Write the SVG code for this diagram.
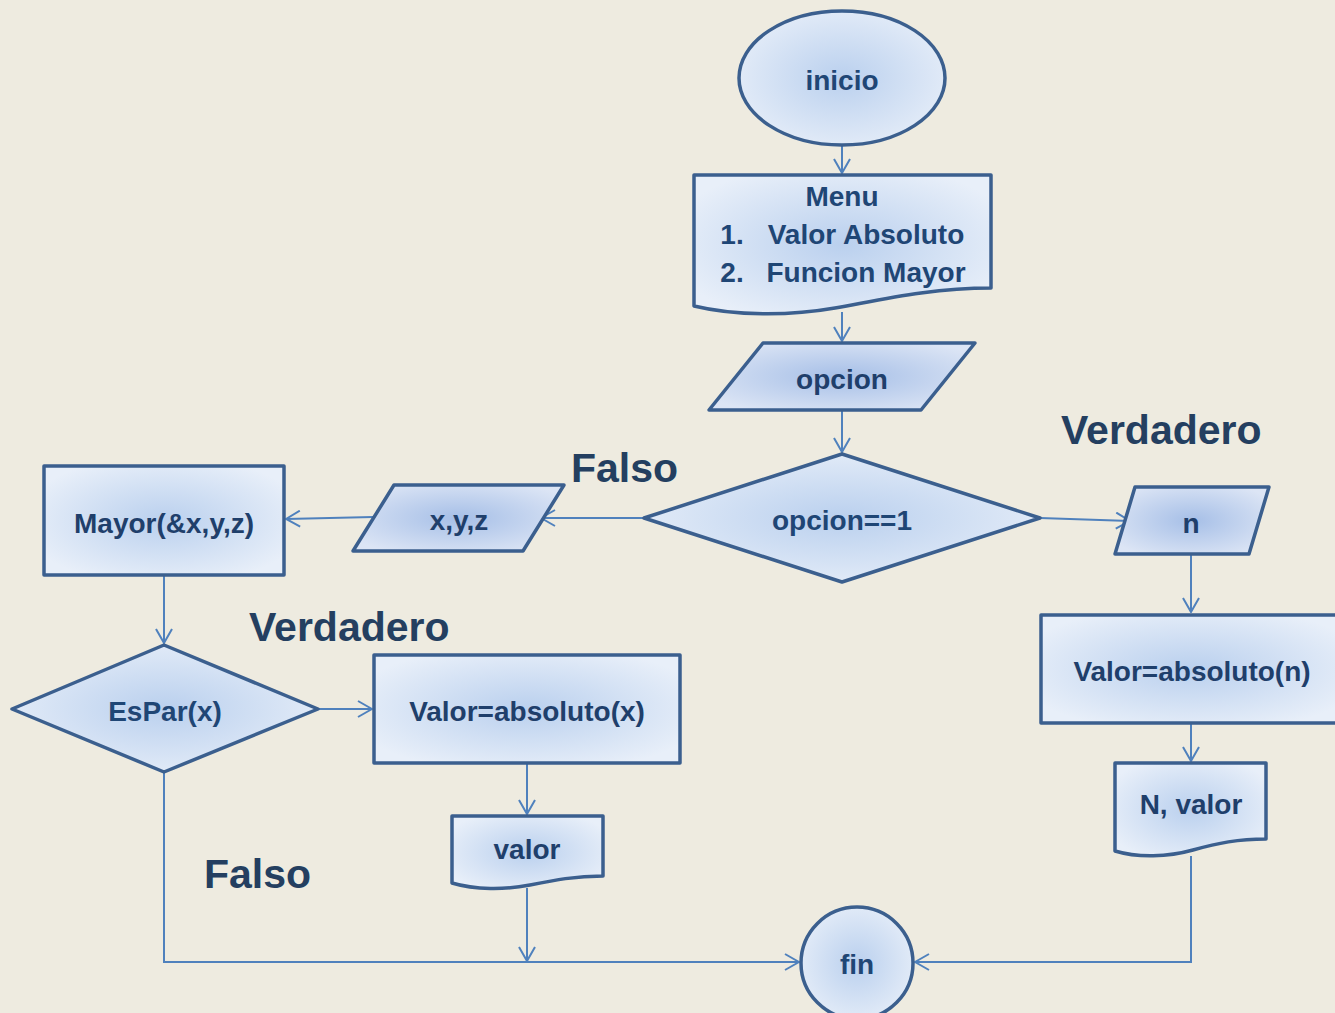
<svg xmlns="http://www.w3.org/2000/svg" width="1335" height="1013" viewBox="0 0 1335 1013">
<defs>
<radialGradient id="g" cx="50%" cy="50%" r="60%">
<stop offset="0" stop-color="#BAD0EE"/>
<stop offset="1" stop-color="#E8EFF9"/>
</radialGradient>
<radialGradient id="gp" cx="50%" cy="50%" r="60%">
<stop offset="0" stop-color="#A6BFE7"/>
<stop offset="1" stop-color="#DCE5F5"/>
</radialGradient>
<marker id="a" viewBox="0 0 16 18" refX="15" refY="9" markerWidth="16" markerHeight="18" markerUnits="userSpaceOnUse" orient="auto">
<path d="M1,1 L15,9 L1,17" fill="none" stroke="#4F81BD" stroke-width="2"/>
</marker>
<style>
.s{fill:url(#g);stroke:#3B5F8E;stroke-width:3.5;stroke-linejoin:round}
.p{fill:url(#gp);stroke:#3B5F8E;stroke-width:3.5;stroke-linejoin:round}
.t{font-family:"Liberation Sans",Arial,sans-serif;font-weight:bold;fill:#1F3F6B;text-anchor:middle;dominant-baseline:central}
.m{font-size:28px}
.b{font-size:28px;fill:#1F4675}
.l{font-family:"Liberation Sans",Arial,sans-serif;font-weight:bold;fill:#243F60;font-size:41px}
.c{fill:none;stroke:#4F81BD;stroke-width:2}
</style>
</defs>
<rect width="1335" height="1013" fill="#EEEBE0"/>
<g id="connectors">
<path class="c" d="M842,146 V173" marker-end="url(#a)"/>
<path class="c" d="M842,312 V341" marker-end="url(#a)"/>
<path class="c" d="M842,410 V452" marker-end="url(#a)"/>
<path class="c" d="M644,518 H541" marker-end="url(#a)"/>
<path class="c" d="M373,517 L286,519" marker-end="url(#a)"/>
<path class="c" d="M164,576 V643" marker-end="url(#a)"/>
<path class="c" d="M318,709 H372" marker-end="url(#a)"/>
<path class="c" d="M527,764 V814" marker-end="url(#a)"/>
<path class="c" d="M527,888 V961" marker-end="url(#a)"/>
<path class="c" d="M164,773 V962 H799" marker-end="url(#a)"/>
<path class="c" d="M1040,518 L1130,521" marker-end="url(#a)"/>
<path class="c" d="M1191,555 V612" marker-end="url(#a)"/>
<path class="c" d="M1191,724 V761" marker-end="url(#a)"/>
<path class="c" d="M1191,856 V962 H915" marker-end="url(#a)"/>
</g>
<g id="inicio"><ellipse class="s" cx="842" cy="78" rx="103" ry="67"/><text class="t b" x="842" y="80">inicio</text></g>
<g id="menu"><path class="s" d="M694,175 H991 V288 C930,288 880,300 835,308 C790,316 735,316 694,306 Z"/>
<text class="t b" x="842" y="196">Menu</text>
<text class="t b" x="732" y="234">1.</text><text class="t b" x="866" y="234">Valor Absoluto</text>
<text class="t b" x="732" y="272">2.</text><text class="t b" x="866" y="272">Funcion Mayor</text></g>
<g id="opcion"><path class="p" d="M763,343 H975 L921,410 H709 Z"/><text class="t m" x="842" y="379">opcion</text></g>
<g id="decision1"><path class="s" d="M842,454 L1040,518 L842,582 L644,518 Z"/><text class="t b" x="842" y="520">opcion==1</text></g>
<g id="xyz"><path class="p" d="M394,485 H564 L523,551 H353 Z"/><text class="t m" x="459" y="520">x,y,z</text></g>
<g id="mayor"><rect class="s" x="44" y="466" width="240" height="109"/><text class="t m" x="164" y="523">Mayor(&amp;x,y,z)</text></g>
<g id="espar"><path class="s" d="M164,645 L318,709 L164,772 L12,709 Z"/><text class="t b" x="165" y="711">EsPar(x)</text></g>
<g id="absx"><rect class="s" x="374" y="655" width="306" height="108"/><text class="t m" x="527" y="711">Valor=absoluto(x)</text></g>
<g id="valor"><path class="s" d="M452,816 H603 V876 C575,876 555,880 530,885 C505,890 475,890 452,883 Z"/><text class="t m" x="527" y="849">valor</text></g>
<g id="fin"><circle class="s" cx="857" cy="963" r="56"/><text class="t b" x="857" y="964">fin</text></g>
<g id="n"><path class="p" d="M1135,487 H1269 L1249,554 H1115 Z"/><text class="t m" x="1191" y="523">n</text></g>
<g id="absn"><rect class="s" x="1041" y="615" width="300" height="108"/><text class="t m" x="1192" y="671">Valor=absoluto(n)</text></g>
<g id="nvalor"><path class="s" d="M1115,763 H1266 V839 C1238,839 1218,843 1193,850 C1168,857 1138,858 1115,851 Z"/><text class="t m" x="1191" y="804">N, valor</text></g>
<g id="labels">
<text class="l" x="571" y="482">Falso</text>
<text class="l" x="1061" y="444">Verdadero</text>
<text class="l" x="249" y="641">Verdadero</text>
<text class="l" x="204" y="888">Falso</text>
</g>
</svg>
